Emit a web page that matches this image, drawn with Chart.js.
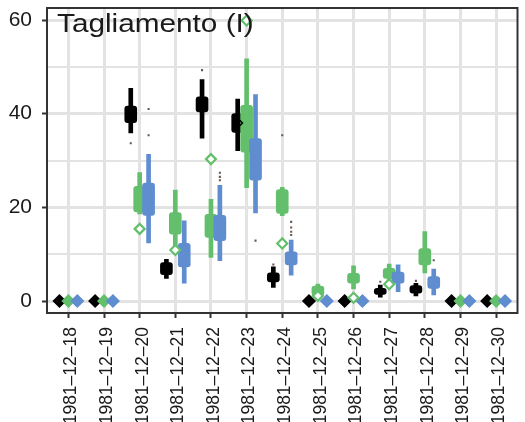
<!DOCTYPE html>
<html>
<head>
<meta charset="utf-8">
<script src="https://cdn.jsdelivr.net/npm/chart.js@4.4.1/dist/chart.umd.min.js"></script>
<style>
  html, body { margin: 0; padding: 0; background: #ffffff; }
  #wrap { position: relative; width: 525px; height: 422px; }
  #title {
    position: absolute; left: 57px; top: 11px;
    font-family: "Liberation Sans", Arial, sans-serif; font-size: 25px; line-height: 25px;
    color: #1a1a1a; white-space: nowrap;
    transform: scaleX(1.19); transform-origin: left top;
  }
</style>
</head>
<body>
<div id="wrap">
  <canvas id="c" width="525" height="422"></canvas>
  <div id="title">Tagliamento (I)</div>
</div>
<script>
// ---- data ----
const categories = ['1981-12-18','1981-12-19','1981-12-20','1981-12-21','1981-12-22','1981-12-23','1981-12-24',
                    '1981-12-25','1981-12-26','1981-12-27','1981-12-28','1981-12-29','1981-12-30'];
const yTicks = [0, 10, 20, 30, 40, 50, 60];

// black series: whisker low, Q1, Q3, whisker high
const blackLo = [0, 0, 35.9, 4.8, 34.8, 32.1, 2.9, 0, 0, 0.8, 1.1, 0, 0];
const blackQ1 = [0, 0, 38.1, 5.6, 40.4, 36.0, 4.1, 0, 0, 1.4, 1.7, 0, 0];
const blackQ3 = [0, 0, 41.6, 8.2, 43.6, 40.0, 6.0, 0, 0, 2.7, 3.3, 0, 0];
const blackHi = [0, 0, 45.4, 8.9, 47.3, 43.1, 7.3, 0, 0, 3.4, 3.8, 0, 0];

// green series
const greenLo = [0, 0, 18.6, 11.6,  9.3, 24.2, 18.2, 0.8, 2.6, 3.8,  6.0, 0, 0];
const greenQ1 = [0, 0, 19.0, 14.3, 13.6, 31.8, 18.7, 1.2, 3.8, 4.8,  7.7, 0, 0];
const greenQ3 = [0, 0, 24.5, 18.9, 18.5, 41.8, 23.8, 3.2, 5.9, 7.0, 11.2, 0, 0];
const greenHi = [0, 0, 27.4, 23.7, 21.7, 51.7, 24.3, 3.6, 7.5, 7.9, 14.8, 0, 0];

// blue series
const blueLo = [0, 0, 12.4,  3.8,  8.6, 18.8,  5.5, 0, 0, 2.0, 1.3, 0, 0];
const blueQ1 = [0, 0, 18.3,  7.3, 12.9, 25.8,  7.7, 0, 0, 3.8, 2.7, 0, 0];
const blueQ3 = [0, 0, 25.2, 12.3, 18.3, 34.7, 10.5, 0, 0, 6.2, 5.2, 0, 0];
const blueHi = [0, 0, 31.3, 17.1, 24.7, 44.1, 13.0, 0, 0, 7.7, 6.8, 0, 0];

// observed values (hollow diamonds)
const greenObs = [null, null, 15.4, 10.9, 30.3, 59.9, 12.3, 1.1, 0.7, 3.6, null, null, null];
const blackObs = [null, null, null, null, null, 38.0, null, null, null, null, null, null, null];

// outliers: [category index, value]
const blackOut = [[2, 33.7], [4, 49.3], [6, 7.8], [9, 4.1], [10, 4.3]];
const greenOut = [[6, 35.4]];
const blueOut  = [[2, 41.0], [2, 35.4], [4, 27.4], [4, 26.5], [4, 25.8], [5, 12.9],
                  [6, 16.9], [6, 15.7], [6, 14.8], [6, 14.1], [10, 8.7]];

// ---- styling ----
const BLACK = '#000000', GREEN = '#63bf6c', BLUE = '#5f8dcf';
const OUTC = '#6b5a52';
const GRID = '#e3e3e3';
const FONT = '"Liberation Sans", Arial, sans-serif';

let layer = 0;
function boxDatasets(color, lo, q1, q3, hi, off, out) {
  const idx = categories.map((_, i) => i);
  const sets = [];
  sets.push({
    type: 'bar', grouped: false, barThickness: 4, backgroundColor: color, borderWidth: 0,
    order: 1000 - (layer++),
    data: idx.filter(i => hi[i] > 0).map(i => ({ x: i + off, y: [lo[i], hi[i]] }))
  });
  sets.push({
    type: 'bar', grouped: false, barThickness: 12, backgroundColor: color, borderWidth: 0,
    borderSkipped: false,
    borderRadius: { topLeft: 3, topRight: 3, bottomLeft: 3, bottomRight: 3 },
    order: 1000 - (layer++),
    data: idx.filter(i => hi[i] > 0).map(i => ({ x: i + off, y: [q1[i], q3[i]] }))
  });
  sets.push({
    type: 'scatter', pointStyle: 'rectRot', pointRadius: 6, pointBackgroundColor: color,
    pointBorderWidth: 1.5, pointBorderColor: color,
    order: 1000 - (layer++),
    data: idx.filter(i => hi[i] === 0).map(i => ({ x: i + off, y: 0 }))
  });
  sets.push({
    type: 'scatter', pointStyle: 'rect', pointRadius: 1.5, pointBackgroundColor: OUTC,
    pointBorderWidth: 0,
    order: 1000 - (layer++),
    data: out.map(p => ({ x: p[0] + off, y: p[1] }))
  });
  return sets;
}

const DODGE = 0.25;
const datasets = [
  ...boxDatasets(BLACK, blackLo, blackQ1, blackQ3, blackHi, -DODGE, blackOut),
  ...boxDatasets(GREEN, greenLo, greenQ1, greenQ3, greenHi, 0, greenOut),
  ...boxDatasets(BLUE, blueLo, blueQ1, blueQ3, blueHi, DODGE, blueOut),
  {
    type: 'scatter', pointStyle: 'rectRot', pointRadius: 5, pointBackgroundColor: '#ffffff',
    pointBorderColor: GREEN, pointBorderWidth: 2.2, order: 1000 - (layer++),
    data: greenObs.map((v, i) => v === null ? null : ({ x: i, y: v })).filter(d => d)
  },
  {
    type: 'scatter', pointStyle: 'rectRot', pointRadius: 3, pointBackgroundColor: 'rgba(0,0,0,0)',
    pointBorderColor: BLACK, pointBorderWidth: 1.5, order: 1000 - (layer++),
    data: blackObs.map((v, i) => v === null ? null : ({ x: i - DODGE + 0.05, y: v })).filter(d => d)
  }
];

const frame = {
  id: 'frame',
  afterDatasetsDraw(chart) {
    const { ctx, chartArea: a } = chart;
    ctx.save();
    ctx.strokeStyle = '#333333';
    ctx.lineWidth = 2;
    ctx.strokeRect(a.left, a.top, a.right - a.left, a.bottom - a.top);
    ctx.restore();
  }
};

new Chart(document.getElementById('c'), {
  type: 'bar',
  data: { datasets },
  options: {
    responsive: false,
    animation: false,
    layout: { padding: { top: 8, right: 2, left: 0, bottom: 0 } },
    plugins: { legend: { display: false }, tooltip: { enabled: false } },
    scales: {
      x: {
        type: 'linear', min: -0.6, max: 12.6, offset: false,
        grid: {
          offset: false, color: GRID, lineWidth: 3,
          tickColor: '#333333', tickWidth: 2, tickLength: 5
        },
        border: { display: false },
        afterBuildTicks: (s) => { s.ticks = categories.map((_, i) => ({ value: i })); },
        afterFit: (s) => { s.height = 109; s.paddingLeft = 0; s.paddingRight = 0; },
        ticks: {
          autoSkip: false, minRotation: 90, maxRotation: 90, padding: 9, labelOffset: 3,
          color: '#1a1a1a', font: { family: FONT, size: 17.5 },
          callback: (v) => (categories[v] || '').replace(/-/g, '\u2013')
        }
      },
      y: {
        type: 'linear', min: -2.56, max: 62.57,
        grid: {
          color: GRID,
          lineWidth: (c) => (c.tick && c.tick.value % 20 === 0) ? 3 : 2,
          tickColor: (c) => (c.tick && c.tick.value % 20 === 0) ? '#333333' : 'rgba(0,0,0,0)',
          tickWidth: 2, tickLength: 5
        },
        border: { display: false },
        afterBuildTicks: (s) => { s.ticks = yTicks.map(v => ({ value: v })); },
        afterFit: (s) => { s.width = 47; s.paddingTop = 0; s.paddingBottom = 0; },
        ticks: {
          padding: 10, color: '#1a1a1a', font: { family: FONT, size: 21 },
          callback: (v) => (v % 20 === 0 ? String(v) : '')
        }
      }
    }
  },
  plugins: [frame]
});
</script>
</body>
</html>
